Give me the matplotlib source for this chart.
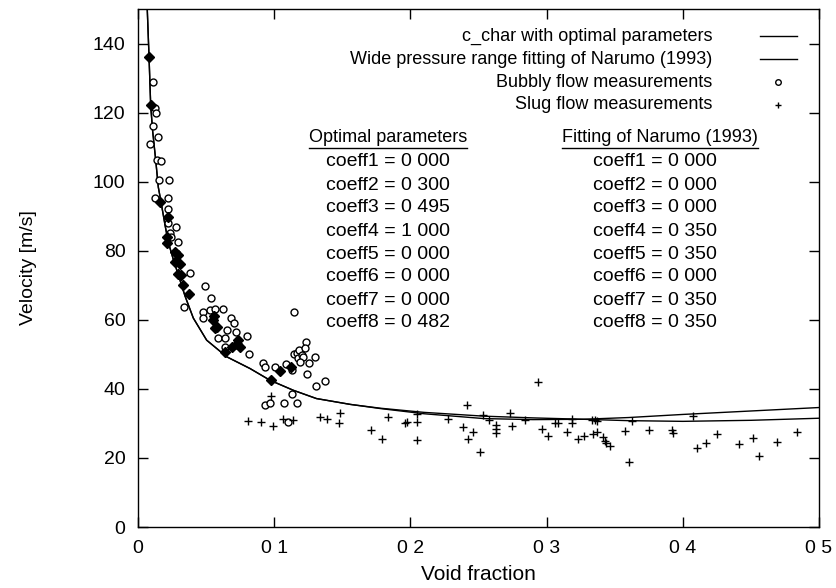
import matplotlib
matplotlib.use("Agg")
import matplotlib.pyplot as plt

plt.rcParams['font.family'] = ['Liberation Sans', 'DejaVu Sans']

# model curves
curve_x = [0.0068, 0.0081, 0.0093, 0.0107, 0.0130, 0.0149, 0.0169, 0.0198, 0.0222,
           0.0259, 0.0308, 0.0345, 0.0406, 0.0504, 0.0651, 0.0822, 0.0969, 0.114,
           0.131, 0.156, 0.178, 0.210, 0.254, 0.290, 0.327, 0.360, 0.400, 0.450, 0.500]
optimal_y = [149.8, 136.0, 122.1, 114.8, 106.2, 98.4, 94.1, 87.5, 82.5,
             77.5, 71.5, 66.9, 60.5, 54.1, 49.3, 45.9, 42.5, 39.6,
             37.2, 35.5, 34.3, 32.8, 31.4, 31.1, 31.2, 31.7, 32.6, 33.6, 34.6]
narumo_y = [149.8, 136.0, 122.1, 114.8, 106.2, 98.4, 94.1, 87.5, 82.5,
            77.5, 71.5, 66.9, 60.5, 54.1, 49.3, 45.9, 42.5, 39.6,
            37.2, 35.5, 34.4, 33.2, 32.1, 31.6, 31.2, 30.8, 30.6, 30.9, 31.5]

# bubbly flow measurements
bubbly_x = [0.0108, 0.0125, 0.0130, 0.0108, 0.0149, 0.0088, 0.0142, 0.0169, 0.0156, 0.0230,
            0.0125, 0.0222, 0.0218, 0.0222, 0.0279, 0.0235, 0.0296, 0.0242, 0.0382, 0.0492,
            0.0534, 0.0338, 0.0479, 0.0479, 0.0529, 0.0565, 0.0622, 0.0681, 0.0705, 0.0651,
            0.0720, 0.0798, 0.0590, 0.0639, 0.0639, 0.0817, 0.1145, 0.0916, 0.0932, 0.1006,
            0.1087, 0.1128, 0.1145, 0.1165, 0.1184, 0.1173, 0.1202, 0.1214, 0.1233, 0.1226,
            0.1189, 0.1258, 0.1300, 0.1239, 0.1373, 0.1307, 0.1128, 0.0932, 0.0969, 0.1072,
            0.1170, 0.1104]
bubbly_y = [128.8, 121.2, 119.8, 116.0, 112.9, 111.0, 106.2, 106.0, 100.6, 100.6,
            95.2, 95.2, 92.2, 87.9, 86.9, 85.0, 82.5, 84.0, 73.6, 69.7,
            66.2, 63.7, 62.3, 60.4, 62.8, 63.0, 63.0, 60.4, 59.1, 57.0,
            56.5, 55.3, 54.6, 54.6, 52.2, 50.0, 62.3, 47.5, 46.4, 46.2,
            47.2, 45.4, 50.0, 50.3, 51.2, 48.8, 49.8, 49.3, 53.6, 51.7,
            47.8, 47.4, 49.3, 44.3, 42.3, 40.8, 38.4, 35.3, 35.8, 36.0,
            36.0, 30.5]

# overlapping bubbly points that print as solid blobs
dense_x = [0.0081, 0.0093, 0.0162, 0.0222, 0.0211, 0.0211, 0.0272, 0.0296, 0.0272, 0.0308,
           0.0296, 0.0314, 0.0333, 0.0377, 0.0553, 0.0565, 0.0578, 0.0558, 0.0725, 0.0749,
           0.0736, 0.0639, 0.0974, 0.1043, 0.1121, 0.0690]
dense_y = [136.0, 122.1, 94.1, 89.8, 84.0, 82.1, 79.6, 78.7, 76.8, 76.3,
           73.4, 72.9, 70.0, 67.6, 59.9, 57.5, 57.9, 61.0, 53.1, 52.2,
           54.1, 50.7, 42.7, 45.2, 46.2, 52.1]

# slug flow measurements
slug_x = [0.0808, 0.0901, 0.0989, 0.0974, 0.1067, 0.1136, 0.1336, 0.1390, 0.1483, 0.1478,
          0.1709, 0.1789, 0.1838, 0.1960, 0.1973, 0.2046, 0.2046, 0.2051, 0.2278, 0.2413,
          0.2388, 0.2457, 0.2425, 0.2511, 0.2579, 0.2628, 0.2628, 0.2628, 0.2531, 0.2731,
          0.2744, 0.2841, 0.2939, 0.2964, 0.3012, 0.3062, 0.3086, 0.3148, 0.3184, 0.3188,
          0.3233, 0.3278, 0.3331, 0.3355, 0.3368, 0.3341, 0.3368, 0.3414, 0.3429, 0.3436,
          0.3465, 0.3578, 0.3604, 0.3625, 0.3750, 0.3918, 0.3930, 0.4077, 0.4102, 0.4170,
          0.4249, 0.4415, 0.4518, 0.4562, 0.4689, 0.4841]
slug_y = [30.7, 30.5, 29.2, 37.9, 31.4, 31.0, 31.9, 31.2, 33.1, 30.0,
          28.1, 25.5, 31.9, 30.0, 30.5, 30.5, 25.2, 32.7, 31.4, 35.3,
          29.0, 27.6, 25.4, 21.6, 31.0, 29.5, 28.3, 27.3, 32.4, 32.9,
          29.3, 31.1, 42.0, 28.4, 26.4, 30.2, 30.2, 27.5, 31.2, 30.1,
          25.4, 26.4, 31.0, 31.0, 30.7, 26.9, 27.6, 26.1, 25.0, 24.4,
          23.4, 27.7, 18.9, 30.6, 28.0, 28.1, 27.1, 32.1, 22.8, 24.2,
          26.9, 23.9, 25.9, 20.6, 24.7, 27.6]

x_ticks = [0.0, 0.1, 0.2, 0.3, 0.4, 0.5]
x_tick_labels = ['0', '0 1', '0 2', '0 3', '0 4', '0 5']
y_ticks = [0, 20, 40, 60, 80, 100, 120, 140]

legend_labels = ['c_char with optimal parameters',
                 'Wide pressure range fitting of Narumo (1993)',
                 'Bubbly flow measurements',
                 'Slug flow measurements']

coeff_names = ['coeff1', 'coeff2', 'coeff3', 'coeff4', 'coeff5', 'coeff6', 'coeff7', 'coeff8']
optimal_params = ['0 000', '0 300', '0 495', '1 000', '0 000', '0 000', '0 000', '0 482']
narumo_params = ['0 000', '0 000', '0 000', '0 350', '0 350', '0 000', '0 350', '0 350']

fs = 13
fig = plt.figure(figsize=(8.37, 5.88), dpi=100)
ax = fig.add_axes([0.1649, 0.1037, 0.8136, 0.881])

ax.plot(curve_x, optimal_y, color='black', lw=1.0)
ax.plot(curve_x, narumo_y, color='black', lw=1.0)
ax.plot(bubbly_x, bubbly_y, 'o', ms=5, mfc='white', mec='black', mew=1.0)
ax.plot(dense_x, dense_y, 'D', ms=5, color='black')
ax.plot(slug_x, slug_y, '+', ms=6, color='black', mew=1.0)

ax.set_xlim(0, 0.5)
ax.set_ylim(0, 150)
ax.set_xticks(x_ticks)
ax.set_xticklabels(x_tick_labels)
ax.set_yticks(y_ticks)
ax.tick_params(direction='in', length=7, width=1, top=True, right=True,
               labelsize=14, pad=9)
for s in ax.spines.values():
    s.set_linewidth(1.0)
ax.set_xlabel('Void fraction', fontsize=15, labelpad=6)
ax.set_ylabel('Velocity [m/s]', fontsize=14, labelpad=40)

# gnuplot style key: right-aligned text, sample on the right
key_rows = [0.948, 0.903, 0.859, 0.815]
for i, (lab, yk) in enumerate(zip(legend_labels, key_rows)):
    ax.text(0.843, yk, lab, transform=ax.transAxes, ha='right', va='center', fontsize=fs)
    if i < 2:
        ax.plot([0.913, 0.968], [yk, yk], transform=ax.transAxes, color='black', lw=1.0)
    elif i == 2:
        ax.plot([0.94], [yk], 'o', ms=4, mfc='white', mec='black', transform=ax.transAxes)
    else:
        ax.plot([0.94], [yk], '+', ms=5, color='black', transform=ax.transAxes)

# parameter table
head_y = 0.751
h1 = ax.text(0.367, head_y, 'Optimal parameters', transform=ax.transAxes,
             ha='center', va='center', fontsize=fs)
h2 = ax.text(0.767, head_y, 'Fitting of Narumo (1993)', transform=ax.transAxes,
             ha='center', va='center', fontsize=fs)
row_y = [0.705, 0.660, 0.616, 0.571, 0.527, 0.483, 0.438, 0.394]
for name, p1, p2, yr in zip(coeff_names, optimal_params, narumo_params, row_y):
    ax.text(0.367, yr, f'{name} = {p1}', transform=ax.transAxes,
            ha='center', va='center', fontsize=14)
    ax.text(0.759, yr, f'{name} = {p2}', transform=ax.transAxes,
            ha='center', va='center', fontsize=14)

fig.canvas.draw()
inv = ax.transAxes.inverted()
for h in (h1, h2):
    bb = h.get_window_extent()
    (x0, y0), (x1, _) = inv.transform([(bb.x0, bb.y0), (bb.x1, bb.y0)])
    ax.plot([x0, x1], [y0 - 0.002, y0 - 0.002], transform=ax.transAxes,
            color='black', lw=1.0)

fig.savefig('out.png', dpi=100)
